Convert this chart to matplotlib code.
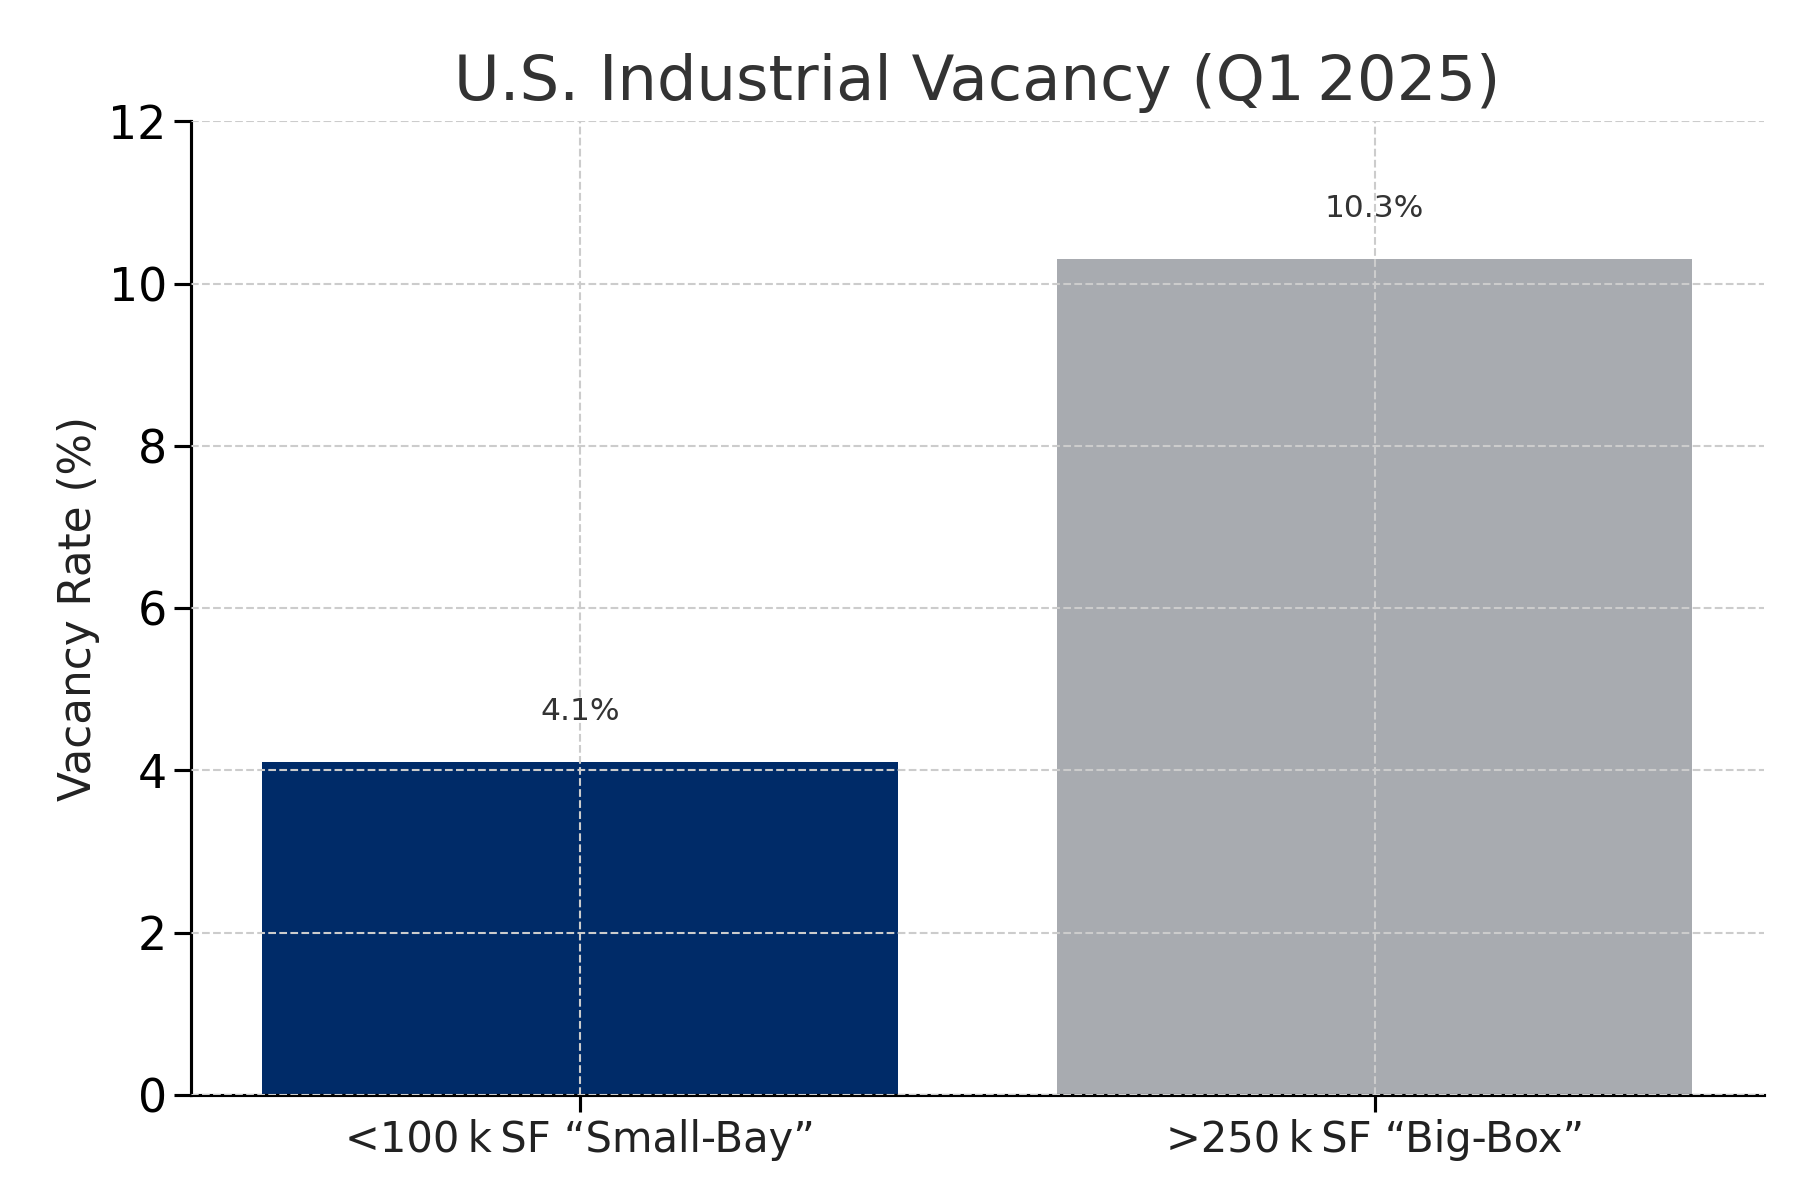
import matplotlib
matplotlib.use("Agg")
import matplotlib.pyplot as plt

categories = ["<100\u2009k\u2009SF \u201cSmall-Bay\u201d", ">250\u2009k\u2009SF \u201cBig-Box\u201d"]
values = [4.1, 10.3]
labels = ["4.1%", "10.3%"]
colors = ["#002b68", "#a8abb0"]

fig = plt.figure(figsize=(12, 8), dpi=150)
ax = fig.add_axes([0.106, 0.0875, 0.874, 0.8115])
x = range(len(categories))
ax.bar(x, values, width=0.8, color=colors, zorder=1)
for xi, v, l in zip(x, values, labels):
    ax.text(xi, v + 0.45, l, ha="center", va="bottom", fontsize=15, color="#333333")
ax.set_xticks(list(x))
ax.set_xticklabels(categories, fontsize=20, color="#222222")
ax.set_ylim(0, 12)
ax.set_yticks(range(0, 13, 2))
ax.tick_params(axis="y", labelsize=22, length=8, width=1.5)
ax.tick_params(axis="x", length=8, width=1.5)
ax.set_ylabel("Vacancy Rate (%)", fontsize=21, color="#222222")
ax.set_title("U.S. Industrial Vacancy (Q1\u20092025)", fontsize=30, color="#333333", pad=10)
ax.grid(True, linestyle="--", color="#cccccc", linewidth=1, zorder=2)
ax.set_axisbelow(False)
for s in ["top", "right"]:
    ax.spines[s].set_visible(False)
for s in ["left", "bottom"]:
    ax.spines[s].set_linewidth(1.5)
fig.savefig("out.png")
